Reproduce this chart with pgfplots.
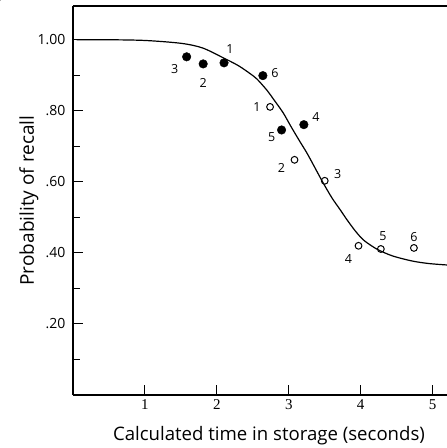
\documentclass[border=0pt]{standalone}
\usepackage{fontspec}
\setmainfont{Open Sans}
\newfontfamily\serifnum{Liberation Serif}
\usepackage{pgfplots}
\pgfplotsset{compat=1.18}
\begin{document}
\begin{tikzpicture}
\begin{axis}[
  at={(0pt,0pt)}, anchor=south west,
  scale only axis, width=374pt, height=389pt,
  xmin=0, xmax=5.2, ymin=0, ymax=1.095,
  axis x line=box, axis y line=left,
  axis line style={-, line width=1.1pt},
  every inner x axis line/.append style={-},
  every outer x axis line/.append style={-},
  every inner y axis line/.append style={-},
  every outer y axis line/.append style={-},
  xtick={1,2,3,4,5}, xtick pos=bottom,
  xticklabels={1,2,3,4,5},
  ytick={0.2,0.4,0.6,0.8,1.0}, ytick pos=left,
  yticklabels={.20,.40,.60,.80,1.00},
  minor ytick={0.1,0.3,0.5,0.7,0.9},
  tick align=inside,
  major tick length=10pt, minor tick length=7pt,
  tick style={line width=1pt, black},
  xticklabel style={font=\serifnum\fontsize{15}{17}\selectfont, yshift=-1pt},
  yticklabel style={font=\fontsize{14}{16}\selectfont, xshift=-4pt},
  xlabel={Calculated time in storage (seconds)},
  ylabel={Probability of recall},
  xlabel style={font=\fontsize{18.6}{22}\selectfont,
    at={([yshift=-45.5pt]rel axis cs:0.524,0)}, anchor=base},
  ylabel style={font=\fontsize{19}{22}\selectfont,
    at={([xshift=-39pt]rel axis cs:0,0.50)}, anchor=base},
  clip=false,
]
% fitted curve
\addplot[black, line width=1.2pt, smooth] coordinates {
 (0.05,1.000) (0.5,1.000) (1.0,0.998) (1.5,0.990) (1.8,0.977) (2.1,0.948)
 (2.3,0.927) (2.46,0.905) (2.56,0.889) (2.7,0.857) (2.79,0.832) (2.92,0.795)
 (3.03,0.756) (3.15,0.715) (3.25,0.682) (3.35,0.645) (3.47,0.600) (3.6,0.555)
 (3.72,0.520) (3.8,0.496) (3.92,0.463) (4.03,0.438) (4.15,0.420) (4.26,0.407)
 (4.45,0.391) (4.72,0.377) (4.95,0.370) (5.2,0.366)};
% filled points
\addplot[only marks, mark=*, mark size=4.3pt, black] coordinates {
 (1.58,0.952) (1.81,0.932) (2.10,0.935) (2.64,0.899) (2.90,0.746) (3.21,0.761)};
% open points
\addplot[only marks, mark=o, mark size=3.4pt, black, line width=1pt] coordinates {
 (2.74,0.811) (3.08,0.662) (3.50,0.603) (3.97,0.420) (4.28,0.411) (4.74,0.414)};
\begin{scope}[font=\fontsize{12.5}{15}\selectfont]
\node at (axis cs:1.58,0.952) [xshift=-12pt, yshift=-12pt] {3};
\node at (axis cs:1.81,0.932) [yshift=-19pt] {2};
\node at (axis cs:2.10,0.935) [xshift=6pt, yshift=14pt] {1};
\node at (axis cs:2.64,0.899) [xshift=12pt, yshift=3pt] {6};
\node at (axis cs:2.90,0.746) [xshift=-10pt, yshift=-7pt] {5};
\node at (axis cs:3.21,0.761) [xshift=12pt, yshift=8pt] {4};
\node at (axis cs:2.74,0.811) [xshift=-13pt] {1};
\node at (axis cs:3.08,0.662) [xshift=-13pt, yshift=-8pt] {2};
\node at (axis cs:3.50,0.603) [xshift=13pt, yshift=7pt] {3};
\node at (axis cs:3.97,0.420) [xshift=-10pt, yshift=-13pt] {4};
\node at (axis cs:4.28,0.411) [xshift=2pt, yshift=13pt] {5};
\node at (axis cs:4.74,0.414) [yshift=11pt] {6};
\end{scope}
\end{axis}
\pgfresetboundingbox
\path (-73pt,-53pt) rectangle (374pt,395pt);
% faint corner speck keeps the page margins from being trimmed
\fill[black!30] (-73pt,395pt) rectangle (-72pt,394pt);
\end{tikzpicture}
\end{document}
